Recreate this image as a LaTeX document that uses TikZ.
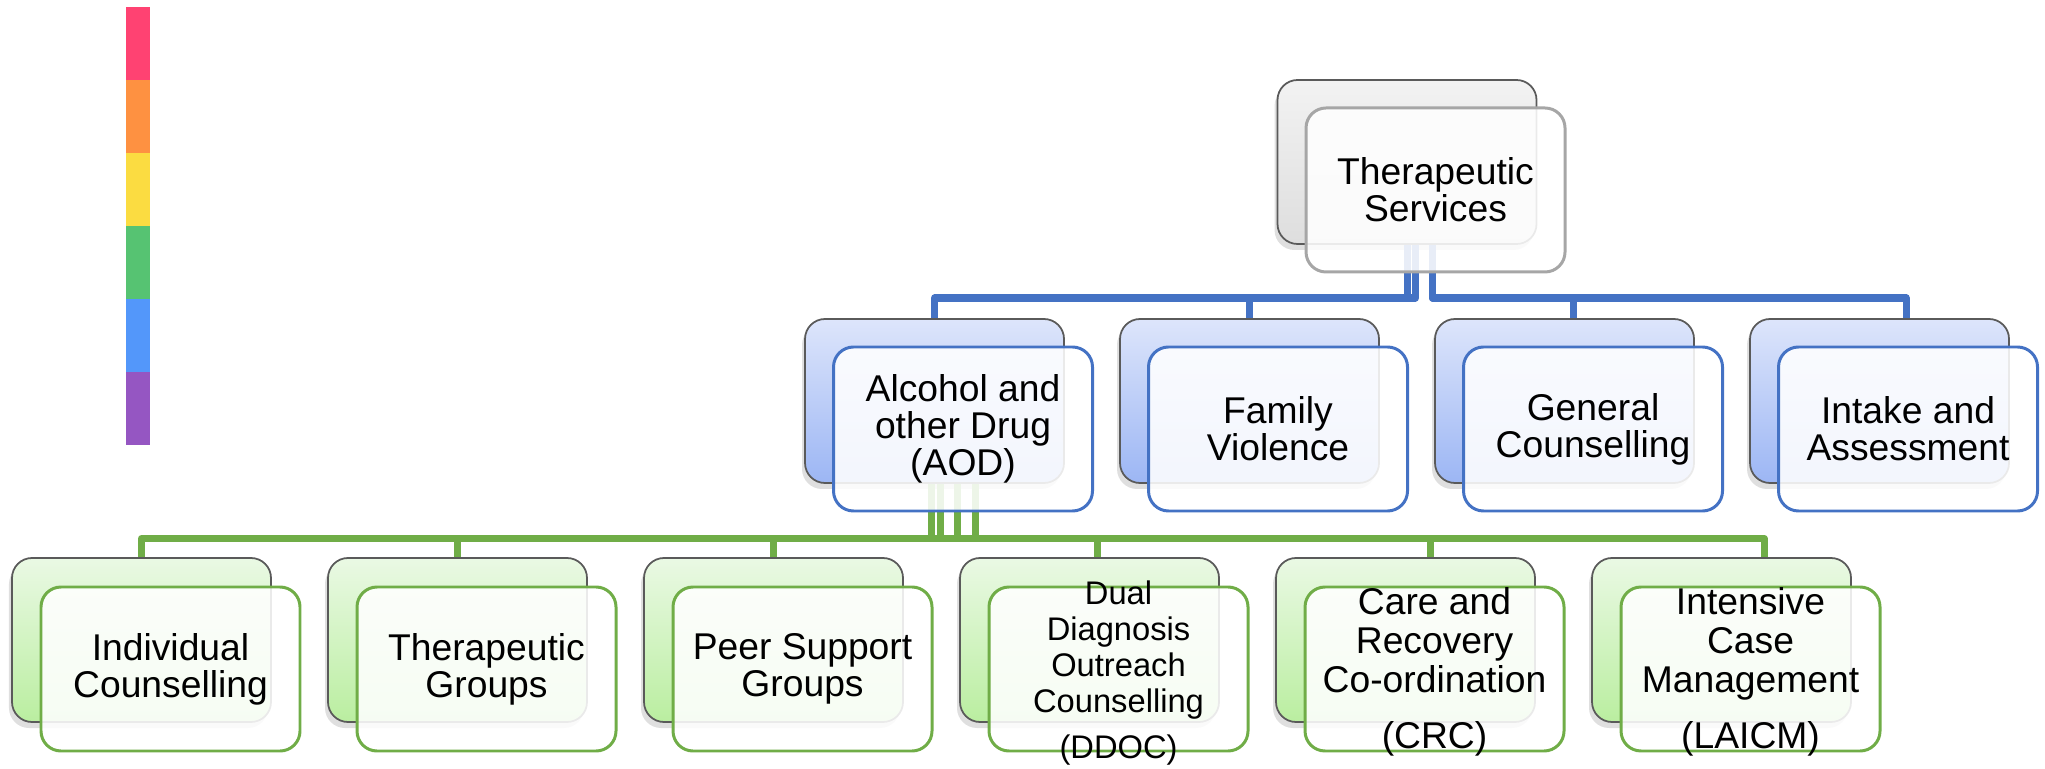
\documentclass[tikz,border=0pt]{standalone}
\usepackage{fontspec}
\setmainfont{Liberation Sans}
\usetikzlibrary{positioning,shadows}
\definecolor{edgegray}{HTML}{5A5A5A}
\definecolor{topgray}{HTML}{A6A6A6}
\definecolor{linkblue}{HTML}{4472C4}
\definecolor{linkgreen}{HTML}{70AD47}
\definecolor{barpink}{HTML}{FF4272}
\definecolor{barorange}{HTML}{FE9141}
\definecolor{baryellow}{HTML}{FBDC41}
\definecolor{bargreen}{HTML}{56C372}
\definecolor{barblue}{HTML}{5397FA}
\definecolor{barpurple}{HTML}{9556C2}
\definecolor{bluetop}{HTML}{DDE5FB}
\definecolor{bluebottom}{HTML}{9CB6F4}
\definecolor{greentop}{HTML}{EAF9E4}
\definecolor{greenbottom}{HTML}{BAEEA0}
\tikzset{
node distance=3.15cm, % centre to centre, with on grid
back/.style={rectangle, rounded corners=0.2cm, minimum width=2.59cm,
  minimum height=1.64cm, draw=edgegray, line width=0.5pt,
  drop shadow={shadow xshift=-0.03cm, shadow yshift=-0.06cm, opacity=0.25}},
backgray/.style={back, top color=black!5, bottom color=black!13},
backblue/.style={back, top color=bluetop, bottom color=bluebottom},
backgreen/.style={back, top color=greentop, bottom color=greenbottom},
front/.style={rectangle, rounded corners=0.2cm, minimum width=2.59cm,
  minimum height=1.64cm, line width=0.85pt, fill=white, fill opacity=0.88},
txt/.style={align=center, inner sep=0pt, font=\fontsize{10.6}{10.6}\selectfont},
bluelink/.style={draw=linkblue, line width=2pt, line join=round},
greenlink/.style={draw=linkgreen, line width=2pt, line join=round},
}

\begin{document}
\begin{tikzpicture}[on grid]
\useasboundingbox (0,0) rectangle (20.45,7.68);

% colour strip
\foreach \c [count=\i] in {barpink,barorange,baryellow,bargreen,barblue,barpurple}
  \fill[\c] (1.26,{7.61-0.73*(\i-1)}) rectangle (1.50,{7.61-0.73*\i});

% back boxes
\node[backgray] (b0) at (14.07,6.06) {};
\node[backblue] (b1) at (9.345,3.67) {};
\node[backblue] (b2) [right=of b1] {};
\node[backblue] (b3) [right=of b2] {};
\node[backblue] (b4) [right=of b3] {};
\node[backgreen] (c1) at (1.415,1.28) {};
\node[backgreen] (c2) [right=3.16cm of c1] {};
\node[backgreen] (c3) [right=3.16cm of c2] {};
\node[backgreen] (c4) [right=3.16cm of c3] {};
\node[backgreen] (c5) [right=3.16cm of c4] {};
\node[backgreen] (c6) [right=3.16cm of c5] {};

% bus levels
\coordinate (busb) at (0,4.70);
\coordinate (busg) at (0,2.295);

\draw[bluelink] (b0.south) |- (b1.north |- busb) -- (b1.north);
\draw[bluelink] ([xshift=0.085cm]b0.south) |- (b2.north |- busb) -- (b2.north);
\draw[bluelink] ([xshift=0.255cm]b0.south) |- ([xshift=0.085cm]b3.north |- busb) -- ([xshift=0.085cm]b3.north);
\draw[bluelink] ([xshift=0.255cm]b0.south) |- ([xshift=0.265cm]b4.north |- busb) -- ([xshift=0.265cm]b4.north);

\draw[greenlink] ([xshift=-0.03cm]b1.south) |- (c1.north |- busg) -- (c1.north);
\draw[greenlink] ([xshift=-0.03cm]b1.south) |- (c2.north |- busg) -- (c2.north);
\draw[greenlink] ([xshift=0.055cm]b1.south) |- (c3.north |- busg) -- (c3.north);
\draw[greenlink] ([xshift=0.055cm]b1.south) |- ([xshift=0.075cm]c4.north |- busg) -- ([xshift=0.075cm]c4.north);
\draw[greenlink] ([xshift=0.23cm]b1.south) |- ([xshift=0.245cm]c5.north |- busg) -- ([xshift=0.245cm]c5.north);
\draw[greenlink] ([xshift=0.405cm]b1.south) |- ([xshift=0.425cm]c6.north |- busg) -- ([xshift=0.425cm]c6.north);

% front boxes
\node[front, draw=topgray] (f0) [below right=0.28cm and 0.285cm of b0] {};
\node[front, draw=linkblue] (f1) [below right=0.28cm and 0.285cm of b1] {};
\node[front, draw=linkblue] (f2) [below right=0.28cm and 0.285cm of b2] {};
\node[front, draw=linkblue] (f3) [below right=0.28cm and 0.285cm of b3] {};
\node[front, draw=linkblue] (f4) [below right=0.28cm and 0.285cm of b4] {};
\node[front, draw=linkgreen] (g1) [below right=0.29cm and 0.29cm of c1] {};
\node[front, draw=linkgreen] (g2) [below right=0.29cm and 0.29cm of c2] {};
\node[front, draw=linkgreen] (g3) [below right=0.29cm and 0.29cm of c3] {};
\node[front, draw=linkgreen] (g4) [below right=0.29cm and 0.29cm of c4] {};
\node[front, draw=linkgreen] (g5) [below right=0.29cm and 0.29cm of c5] {};
\node[front, draw=linkgreen] (g6) [below right=0.29cm and 0.29cm of c6] {};

% texts
\node[txt] (t0) at (f0) {Therapeutic\\Services};
\node[txt] (t1) at (f1) {Alcohol and\\other Drug\\(AOD)};
\node[txt] (t2) at (f2) {Family\\Violence};
\node[txt] (t3) at (f3) {General\\Counselling};
\node[txt] (t4) at (f4) {Intake and\\Assessment};
\node[txt] (u1) at (g1) {Individual\\Counselling};
\node[txt] (u2) at (g2) {Therapeutic\\Groups};
\node[txt] (u3) at (g3) {Peer Support\\Groups};
\node[txt, font=\fontsize{9.3}{10.2}\selectfont] (u4) at ([yshift=-0.04cm]g4.center) {Dual\\Diagnosis\\Outreach\\Counselling\\[3pt](DDOC)};
\node[txt, font=\fontsize{10.6}{11}\selectfont] (u5) at ([yshift=-0.03cm]g5.center) {Care and\\Recovery\\Co-ordination\\[5pt](CRC)};
\node[txt, font=\fontsize{10.6}{11}\selectfont] (u6) at ([yshift=-0.03cm]g6.center) {Intensive\\Case\\Management\\[5pt](LAICM)};
\end{tikzpicture}
\end{document}
